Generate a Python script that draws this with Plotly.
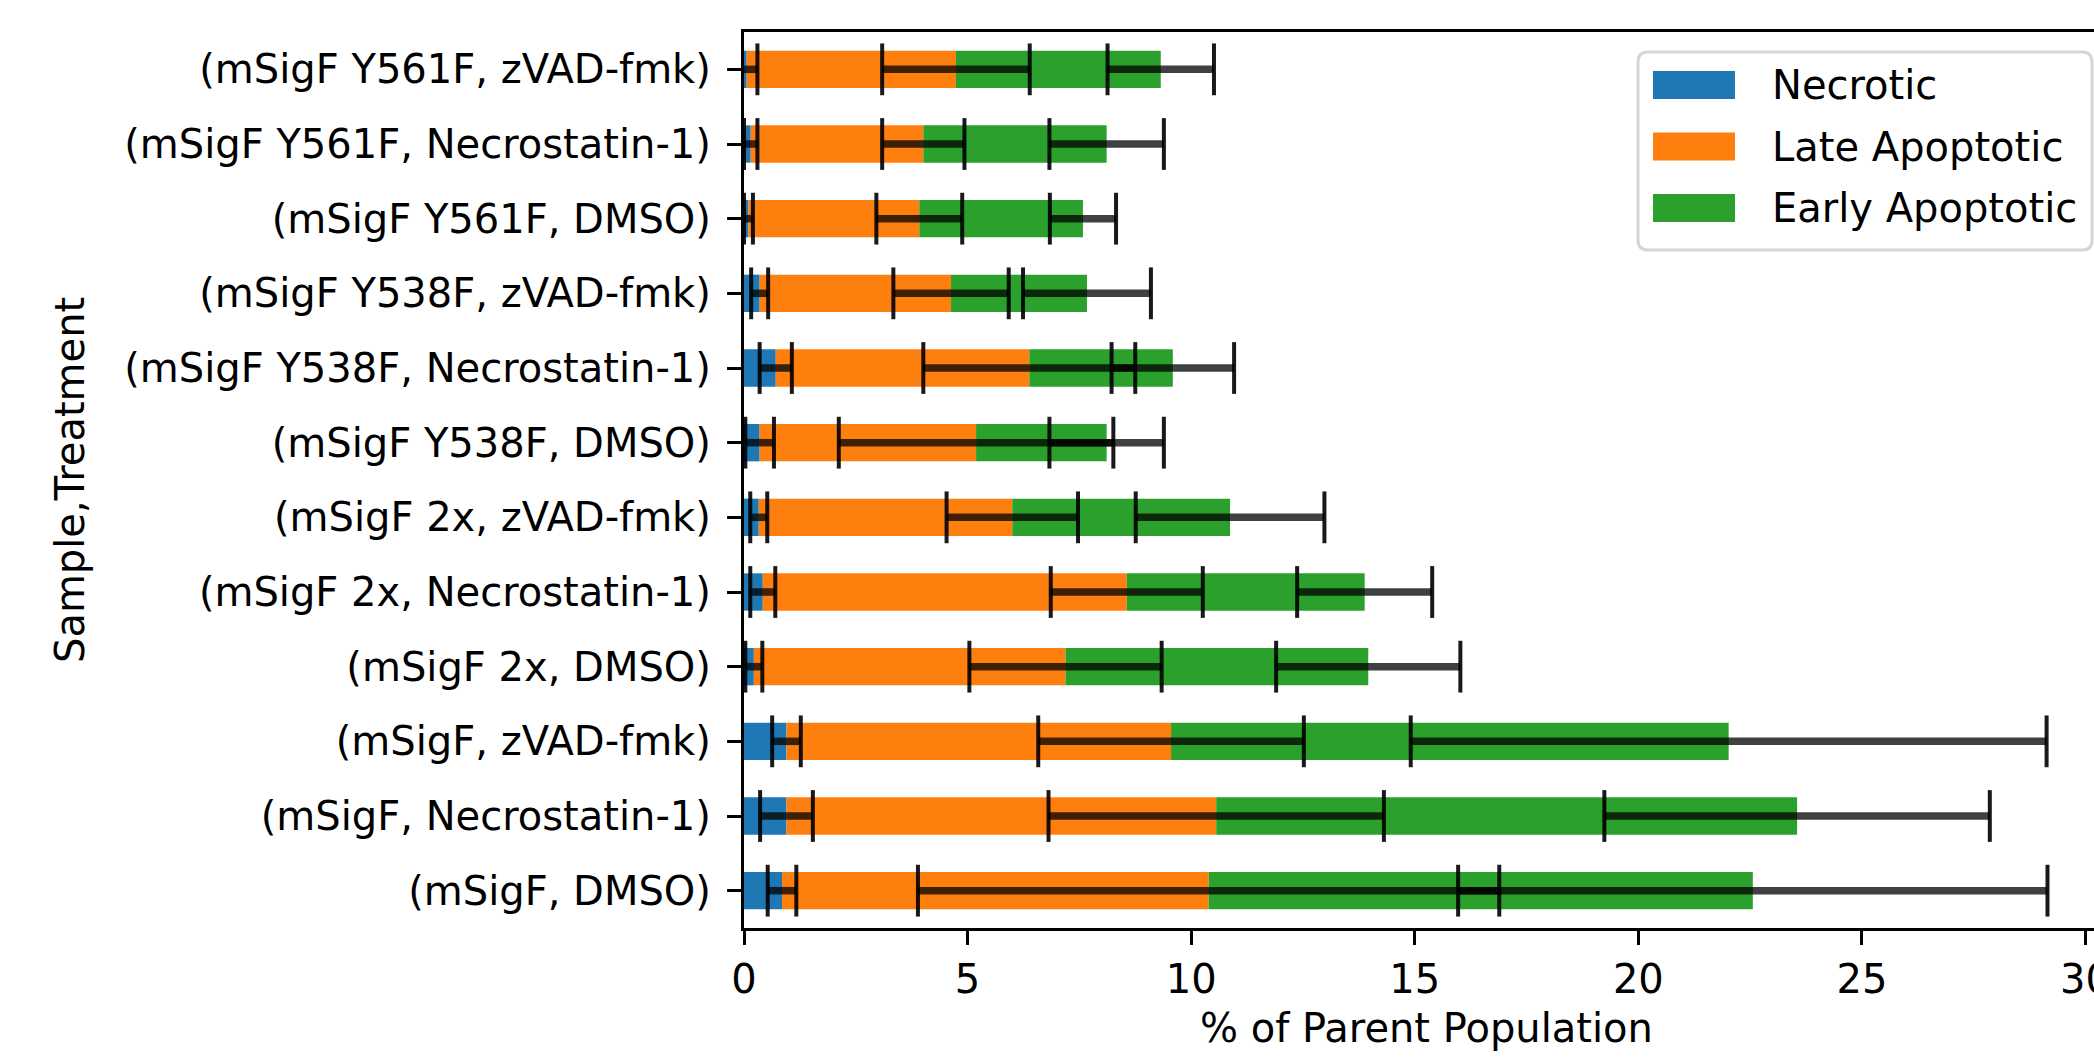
import numpy as np
import plotly.graph_objects as go

# ---------------- data (bottom -> top, as in the source DataFrame order) ----------------
categories = [
    "(mSigF, DMSO)", "(mSigF, Necrostatin-1)", "(mSigF, zVAD-fmk)",
    "(mSigF 2x, DMSO)", "(mSigF 2x, Necrostatin-1)", "(mSigF 2x, zVAD-fmk)",
    "(mSigF Y538F, DMSO)", "(mSigF Y538F, Necrostatin-1)", "(mSigF Y538F, zVAD-fmk)",
    "(mSigF Y561F, DMSO)", "(mSigF Y561F, Necrostatin-1)", "(mSigF Y561F, zVAD-fmk)",
]
necrotic = [0.85, 0.95, 0.95, 0.22, 0.42, 0.33, 0.35, 0.71, 0.35, 0.10, 0.15, 0.06]
necrotic_err = [0.32, 0.59, 0.32, 0.19, 0.28, 0.19, 0.32, 0.36, 0.19, 0.10, 0.15, 0.24]
late_apoptotic = [9.54, 9.61, 8.60, 6.97, 8.14, 5.67, 4.84, 5.67, 4.28, 3.82, 3.86, 4.68]
late_apoptotic_err = [6.50, 3.75, 2.97, 2.15, 1.70, 1.47, 3.07, 2.37, 1.29, 0.96, 0.92, 1.65]
early_apoptotic = [12.17, 12.99, 12.47, 6.77, 5.32, 4.87, 2.92, 3.21, 3.04, 3.66, 4.10, 4.58]
early_apoptotic_err = [6.59, 4.31, 7.11, 2.06, 1.51, 2.11, 1.28, 1.37, 1.43, 0.74, 1.28, 1.19]

series_names = ["Necrotic", "Late Apoptotic", "Early Apoptotic"]
series_colors = ["#1f77b4", "#ff7f0e", "#2ca02c"]
x_tick_values = [0, 5, 10, 15, 20, 25, 30]
x_tick_labels = ["0", "5", "10", "15", "20", "25", "30"]
x_title = "% of Parent Population"
y_title = "Sample,Treatment"

# ---------------- geometry (pixels) ----------------
W, H = 2094, 1058
L, R, T, B = 744, 0, 32, 130
FONT = "DejaVu Sans"
FS = 40

values = [necrotic, late_apoptotic, early_apoptotic]
errors = [necrotic_err, late_apoptotic_err, early_apoptotic_err]

fig = go.Figure()
base = np.zeros(len(categories))
ends = []
for name, col, vals in zip(series_names, series_colors, values):
    v = np.array(vals)
    fig.add_trace(go.Bar(
        y=categories, x=v, base=base.copy(), orientation="h", name=name,
        marker=dict(color=col, line=dict(width=0)), width=0.5, showlegend=False,
    ))
    base = base + v
    ends.append(base.copy())

# error bars (on top of all bars)
for end, err in zip(ends, errors):
    e = np.array(err)
    xs, ys = [], []
    for c, x0, ee in zip(categories, end, e):
        xs += [x0 - ee, x0 + ee, None]
        ys += [c, c, None]
    fig.add_trace(go.Scatter(
        x=xs, y=ys, mode="lines", line=dict(color="rgba(0,0,0,0.75)", width=7.5),
        showlegend=False, hoverinfo="skip",
    ))
    cx = list(end - e) + list(end + e)
    cy = categories + categories
    fig.add_trace(go.Scatter(
        x=cx, y=cy, mode="markers",
        marker=dict(symbol="line-ns", size=37, line=dict(color="rgba(0,0,0,0.9)", width=4)),
        showlegend=False, hoverinfo="skip", cliponaxis=True,
    ))

pw = W - L - R
ph = H - T - B


def px2paper(px, py):
    return (px - L) / pw, (H - B - py) / ph


shapes = []
annotations = []

# legend frame (rounded)
x0p, y0p = px2paper(1638, 52)
x1p, y1p = px2paper(2092, 250)
rx, ry = 10 / pw, 10 / ph
path = (f"M {x0p + rx},{y0p} L {x1p - rx},{y0p} Q {x1p},{y0p} {x1p},{y0p - ry} "
        f"L {x1p},{y1p + ry} Q {x1p},{y1p} {x1p - rx},{y1p} "
        f"L {x0p + rx},{y1p} Q {x0p},{y1p} {x0p},{y1p + ry} "
        f"L {x0p},{y0p - ry} Q {x0p},{y0p} {x0p + rx},{y0p} Z")
shapes.append(dict(type="path", xref="paper", yref="paper", path=path,
                   fillcolor="rgba(255,255,255,0.8)", line=dict(color="#d5d5d5", width=3)))
for i, (name, col) in enumerate(zip(series_names, series_colors)):
    cy = 85 + i * 61.5
    a0, b0 = px2paper(1653, cy - 14)
    a1, b1 = px2paper(1735, cy + 14)
    shapes.append(dict(type="rect", xref="paper", yref="paper", x0=a0, x1=a1, y0=b1, y1=b0,
                       fillcolor=col, line=dict(width=0)))
    tx, ty = px2paper(1770, cy)
    annotations.append(dict(xref="paper", yref="paper", x=tx, y=ty, text=name, showarrow=False,
                            xanchor="left", yanchor="middle",
                            font=dict(family=FONT, size=FS, color="black")))

# axis titles
tx, ty = px2paper(1426, 1028)
annotations.append(dict(xref="paper", yref="paper", x=tx, y=ty, text=x_title, showarrow=False,
                        xanchor="center", yanchor="middle", font=dict(family=FONT, size=FS, color="black")))
tx, ty = px2paper(70, 480)
annotations.append(dict(xref="paper", yref="paper", x=tx, y=ty, text=y_title, showarrow=False,
                        textangle=-90, xanchor="center", yanchor="middle",
                        font=dict(family=FONT, size=FS, color="black")))

fig.update_layout(
    width=W, height=H, margin=dict(l=L, r=R, t=T, b=B, pad=0, autoexpand=False),
    barmode="overlay", bargap=0.5,
    plot_bgcolor="white", paper_bgcolor="white",
    font=dict(family=FONT, size=FS, color="black"),
    shapes=shapes, annotations=annotations, showlegend=False,
    xaxis=dict(range=[0, 30.19], tickvals=x_tick_values, ticktext=x_tick_labels,
               showline=True, linecolor="black", linewidth=3.2, mirror=True,
               ticks="outside", ticklen=14, tickwidth=3.2, tickcolor="black",
               ticklabeloverflow="allow", automargin=False,
               tickfont=dict(family=FONT, size=FS, color="black"),
               showgrid=False, zeroline=False, fixedrange=True),
    yaxis=dict(range=[-0.5, 11.5], categoryorder="array", categoryarray=categories,
               showline=True, linecolor="black", linewidth=3.2,
               ticks="outside", ticklen=14, tickwidth=3.2, tickcolor="black",
               ticklabelstandoff=8, automargin=False,
               tickfont=dict(family=FONT, size=FS, color="black"),
               showgrid=False, zeroline=False, fixedrange=True),
)

fig.write_html("out.html", config={"displayModeBar": False},
               post_script="document.body.style.margin='0';document.body.style.overflow='hidden';")
